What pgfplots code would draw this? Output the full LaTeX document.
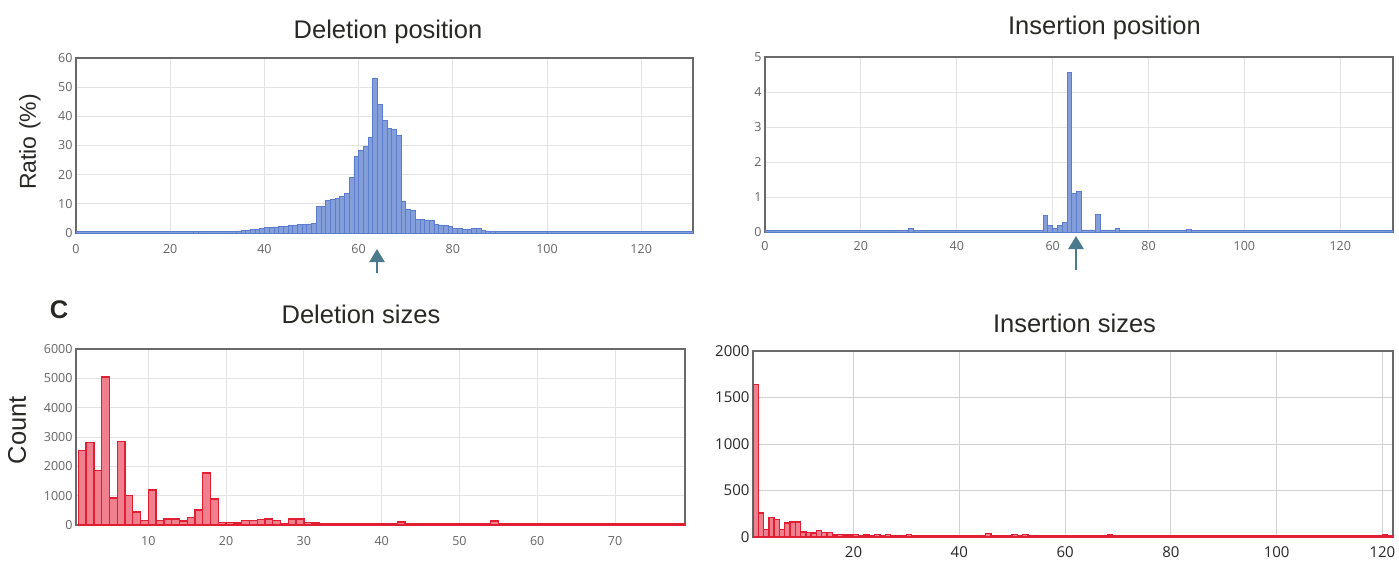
\documentclass[border=0pt]{standalone}
\usepackage{fontspec}
\setmainfont{Liberation Sans}
\newfontfamily\tickfont{Open Sans}
\usepackage{pgfplots}
\pgfplotsset{compat=1.18}
\usetikzlibrary{arrows.meta}
\definecolor{bfill}{RGB}{132,158,218}
\definecolor{bdraw}{RGB}{92,124,205}
\definecolor{rfill}{RGB}{240,128,142}
\definecolor{rdraw}{RGB}{226,30,50}
\definecolor{framec}{RGB}{105,105,105}
\definecolor{arrowc}{RGB}{74,122,140}
\definecolor{titlec}{RGB}{40,40,36}
\definecolor{tickc}{RGB}{100,100,100}

\pgfplotsset{
  panel/.style={
    scale only axis, anchor=north west,
    axis line style={draw=framec, line width=1.8pt},
    grid=major, grid style={draw=gray!22, line width=0.8pt},
    major tick length=0pt,
    tick style={draw=none},
    /pgf/number format/assume math mode=true,
    /pgf/number format/1000 sep={},
    scaled ticks=false,
  },
}

\pgfplotstableread{
x y
0 0.45
25 0.6
26 0.6
34 0.7
35 0.8
36 1.0
37 1.1
38 1.3
39 1.6
40 1.8
41 2.0
42 2.1
43 2.2
44 2.4
45 2.6
46 2.8
47 2.9
48 3.0
49 3.1
50 3.2
51 9.2
52 9.3
53 11.2
54 11.5
55 11.8
56 12.5
57 13.6
58 19.2
59 26.4
60 28.5
61 29.8
62 32.8
63 53.2
64 44.0
65 38.5
66 36.0
67 35.5
68 33.5
69 11.0
70 8.0
71 7.8
72 4.8
73 4.6
74 4.5
75 4.4
76 3.0
77 2.8
78 2.6
79 2.4
80 1.6
81 1.5
82 1.4
83 1.4
84 1.6
85 1.7
86 0.8
87 0.7
88 0.6
89 0.5
100 0.45
131 0
}\delpos

\pgfplotstableread{
x y
0 0.05
30 0.09
31 0.05
58 0.48
59 0.18
60 0.10
61 0.20
62 0.28
63 4.57
64 1.10
65 1.15
66 0.06
69 0.50
70 0.06
73 0.09
74 0.05
88 0.08
89 0.05
131 0
}\inspos

\pgfplotstableread{
x y
1 2550
2 2820
3 1860
4 5050
5 920
6 2850
7 1000
8 450
9 150
10 1200
11 150
12 200
13 200
14 140
15 260
16 510
17 1770
18 880
19 90
20 80
21 70
22 150
23 150
24 190
25 200
26 150
27 50
28 200
29 210
30 90
31 70
32 50
33 40
34 50
35 60
36 60
37 50
38 40
39 40
40 40
41 40
42 100
43 60
44 40
45 40
46 40
47 40
48 40
49 40
50 40
51 40
52 40
53 40
54 140
55 40
56 40
60 40
65 40
70 40
75 40
79 0
}\delsize

\pgfplotstableread{
x y
1 1640
2 260
3 80
4 210
5 190
6 80
7 150
8 160
9 160
10 55
11 50
12 45
13 70
14 50
15 50
16 20
17 25
18 20
19 20
20 30
21 15
22 20
23 15
24 30
25 15
26 30
27 12
30 25
31 12
45 40
46 12
50 25
51 12
52 30
53 12
68 22
69 12
73 16
74 12
120 22
121 12
122 0
}\inssize

\begin{document}
\begin{tikzpicture}
\path[use as bounding box] (0,0) rectangle (1399pt,-574pt);

% Deletion position
\begin{axis}[panel, at={(76pt,-58pt)}, width=617pt, height=175pt,
  xmin=0, xmax=131, ymin=0, ymax=60,
  xtick={0,20,...,120}, ytick={0,10,...,60},
  ticklabel style={font=\tickfont\fontsize{12.5}{12.5}\selectfont, text=tickc},
  xticklabel style={yshift=-8pt}]
\addplot[ybar interval, fill=bfill, draw=bdraw, line width=0.6pt] table {\delpos};
\end{axis}

% Insertion position
\begin{axis}[panel, at={(765pt,-57pt)}, width=628pt, height=175pt,
  xmin=0, xmax=131, ymin=0, ymax=5,
  xtick={0,20,...,120}, ytick={0,1,...,5},
  ticklabel style={font=\tickfont\fontsize{12.5}{12.5}\selectfont, text=tickc},
  xticklabel style={yshift=-6pt}]
\addplot[ybar interval, fill=bfill, draw=bdraw, line width=0.8pt] table {\inspos};
\end{axis}

% Deletion sizes
\begin{axis}[panel, at={(76pt,-349pt)}, width=609pt, height=176pt,
  xmin=0.7, xmax=79, ymin=0, ymax=6000,
  xtick={10,20,...,70}, ytick={0,1000,...,6000},
  ticklabel style={font=\tickfont\fontsize{12.5}{12.5}\selectfont, text=tickc},
  xticklabel style={yshift=-8pt}]
\addplot[ybar interval, fill=rfill, draw=rdraw, line width=1.4pt] table {\delsize};
\end{axis}

% Insertion sizes
\begin{axis}[panel, at={(753pt,-351pt)}, width=640pt, height=186pt,
  xmin=1, xmax=122, ymin=0, ymax=2000,
  xtick={20,40,...,120}, ytick={0,500,...,2000},
  grid style={draw=gray!35, line width=0.8pt},
  ticklabel style={font=\tickfont\fontsize{15}{15}\selectfont, text=black!85},
  xticklabel style={yshift=-6pt}]
\addplot[ybar interval, fill=rfill, draw=rdraw, line width=1.4pt] table {\inssize};
\end{axis}

% titles and labels
\node[anchor=base, font=\fontsize{25.5}{30}\selectfont, text=titlec] at (388pt,-38.3pt) {Deletion position};
\node[anchor=base, font=\fontsize{25.5}{30}\selectfont, text=titlec] at (1104.5pt,-34pt) {Insertion position};
\node[anchor=base, font=\fontsize{25.5}{30}\selectfont, text=titlec] at (361pt,-323pt) {Deletion sizes};
\node[anchor=base, font=\fontsize{25.5}{30}\selectfont, text=titlec] at (1074.5pt,-332pt) {Insertion sizes};
\node[anchor=base, font=\bfseries\fontsize{25.5}{30}\selectfont, text=titlec] at (59pt,-318pt) {C};
\node[rotate=90, font=\fontsize{23}{28}\selectfont, text=titlec] at (30pt,-142pt) {Ratio (\%)};
\node[rotate=90, font=\fontsize{25.5}{30}\selectfont, text=titlec] at (17pt,-430pt) {Count};

% arrows
\draw[arrowc, line width=2.6pt, -{Triangle[width=15pt,length=13pt]}] (377pt,-273pt) -- (377pt,-249pt);
\draw[arrowc, line width=2.6pt, -{Triangle[width=15pt,length=13pt]}] (1076pt,-270pt) -- (1076pt,-236pt);
\end{tikzpicture}
\end{document}
